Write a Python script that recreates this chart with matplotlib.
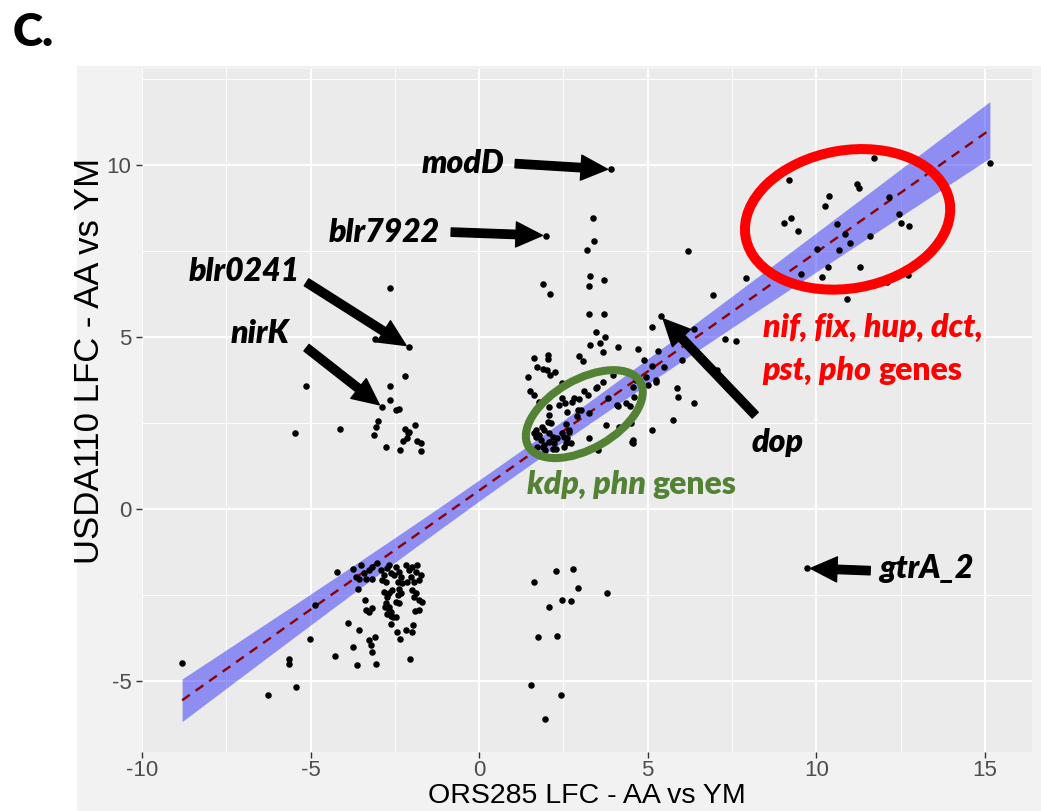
import matplotlib
matplotlib.use("Agg")
import matplotlib.pyplot as plt
import numpy as np
from matplotlib.patches import Ellipse, Rectangle
from matplotlib.transforms import ScaledTranslation

plt.rcParams["axes.unicode_minus"] = False

# ---- data ----
# lower-left block (down in both strains)
ll_x = [-8.81, -6.25, -5.43, -5.63, -5.63, -5.01, -4.86, -4.27, -4.22, -3.89, -3.73, -3.61,
        -3.56, -3.59, -3.39, -3.36, -3.26, -3.18, -3.28, -3.22, -3.19, -3.09, -3.07, -2.78,
        -2.72, -2.67, -2.61, -2.55, -2.47, -2.62, -2.43, -2.34, -2.16, -2.05, -1.98, -1.96,
        -1.90, -1.77, -1.68,
        -3.73, -3.51, -3.66, -3.56, -3.41, -3.26, -3.17, -3.02, -3.36, -3.17, -2.92, -2.82,
        -2.72, -2.67, -2.62, -2.87, -2.77, -2.47, -2.37, -2.32, -2.42, -2.28, -2.52, -2.18,
        -2.08, -2.03, -2.13, -1.98, -1.88, -1.83, -1.78, -1.73, -1.93,
        -2.82, -2.67, -2.72, -2.57, -2.37, -2.42, -2.32, -2.47, -2.37, -2.77, -2.67, -2.62,
        -1.98, -1.88, -1.93, -1.78]
ll_y = [-4.46, -5.40, -5.16, -4.35, -4.49, -3.78, -2.78, -4.26, -1.82, -3.30, -4.00, -4.53,
        -3.51, -2.33, -2.65, -2.92, -3.00, -2.87, -3.81, -3.94, -4.14, -3.73, -4.49, -2.84,
        -3.05, -2.94, -3.11, -3.13, -3.15, -3.35, -3.57, -3.78, -3.51, -4.36, -3.57, -3.38,
        -2.97, -2.92, -2.70,
        -1.75, -1.63, -1.97, -2.04, -1.87, -1.77, -1.68, -1.58, -2.02, -2.02, -1.77, -1.92,
        -1.72, -1.63, -1.87, -2.06, -2.11, -1.68, -1.82, -1.97, -2.11, -2.16, -1.92, -1.63,
        -1.77, -1.97, -2.11, -1.68, -1.82, -1.63, -2.06, -1.92, -2.11,
        -2.40, -2.45, -2.55, -2.35, -2.31, -2.50, -2.43, -2.69, -2.74, -2.74, -2.84, -2.98,
        -2.35, -2.45, -2.55, -2.65]

# upper-left block
ul_x = [-2.63, -3.09, -2.21, -5.15, -2.63, -2.65, -2.47, -2.37, -3.00, -3.06, -3.12, -5.45,
        -4.13, -2.76, -2.34, -2.20, -2.08, -2.10, -1.90, -2.26, -2.13, -1.83, -1.73, -1.71]
ul_y = [6.43, 4.93, 3.88, 3.58, 3.58, 3.17, 2.88, 2.90, 2.56, 2.39, 2.15, 2.20,
        2.32, 1.79, 1.72, 2.32, 2.25, 2.20, 2.45, 1.99, 2.07, 1.99, 1.91, 1.69]

# centre block (kdp, phn region and above)
mid_x = [3.38, 3.40, 3.21, 6.19, 1.90, 2.11, 3.29, 3.27, 3.71, 3.27, 3.71, 5.13, 3.48, 3.74,
         3.60, 3.29, 3.68, 4.12, 4.70, 2.97, 3.09, 1.62, 2.03, 2.03, 1.73, 1.88, 2.00, 2.26,
         2.09, 1.45, 4.90, 5.31, 5.47, 5.13, 6.01, 1.50, 1.64, 3.96, 3.68, 3.50, 3.46, 3.11,
         3.24, 2.45, 2.80, 2.75, 2.55, 2.47, 2.37, 2.62, 2.92, 3.02, 3.26, 2.97, 2.08, 2.06,
         2.03, 2.13, 1.86, 1.68, 1.93, 1.78, 2.08, 2.18, 1.68, 1.83, 1.73, 1.88, 1.96, 2.18,
         2.28, 2.23, 2.52, 2.62, 2.67, 2.57, 2.52, 2.72, 3.26, 3.54, 3.76, 4.10, 4.35, 4.55,
         4.65, 4.95, 5.24, 5.14, 4.55, 4.55, 4.15, 3.83, 4.12, 4.47, 4.58, 5.01, 5.25, 5.86,
         5.89, 5.75, 6.38, 1.78, 2.57, 2.67, 2.47, 2.89, 4.50, 4.53, 1.63, 2.32, 2.08, 1.93,
         7.93, 6.95, 6.38, 7.29, 7.62, 7.07]
mid_y = [8.45, 7.78, 7.54, 7.49, 6.54, 6.24, 6.78, 6.48, 6.65, 5.66, 5.68, 5.30, 5.16, 5.01,
         4.84, 4.77, 4.57, 4.71, 4.65, 4.44, 4.30, 4.38, 4.48, 4.36, 4.14, 4.08, 4.05, 3.98,
         3.90, 3.85, 4.33, 4.60, 4.13, 4.17, 4.33, 3.42, 3.31, 3.90, 3.70, 3.56, 3.52, 3.44,
         3.33, 3.67, 3.24, 3.12, 3.07, 3.22, 3.02, 2.83, 2.88, 2.88, 2.80, 3.19, 2.97, 2.73,
         2.54, 2.49, 2.39, 2.30, 2.30, 2.15, 2.20, 2.10, 2.10, 2.01, 1.81, 1.81, 1.73, 1.76,
         1.76, 1.91, 2.10, 2.06, 2.25, 1.91, 1.81, 1.91, 2.07, 1.72, 2.44, 3.02, 3.07, 3.56,
         3.75, 3.85, 3.75, 2.30, 2.01, 1.93, 2.38, 3.22, 3.00, 3.00, 3.25, 3.62, 3.68, 3.52,
         3.25, 2.58, 3.09, 3.12, 2.46, 2.30, 2.20, 2.70, 2.51, 1.96, 2.20, 2.06, 1.96, 1.86,
         6.71, 6.22, 5.22, 4.93, 4.88, 4.04]

# upper-right block (nif, fix, hup, dct, pst, pho)
ur_x = [11.72, 15.15, 9.19, 11.20, 11.26, 10.38, 12.16, 10.26, 9.24, 9.05, 9.47, 10.62,
        12.46, 12.51, 12.76, 10.84, 11.01, 11.58, 10.01, 10.67, 10.35, 11.30, 9.55, 10.16,
        12.71, 12.11, 10.90]
ur_y = [10.20, 10.05, 9.56, 9.45, 9.34, 9.10, 9.07, 8.80, 8.45, 8.31, 8.08, 8.28,
        8.58, 8.32, 8.24, 7.99, 7.72, 7.95, 7.56, 7.54, 7.05, 7.05, 6.83, 6.74,
        6.81, 6.61, 6.10]

# lower-centre block
lc_x = [2.28, 2.78, 1.64, 2.92, 3.80, 2.47, 2.74, 2.06, 1.75, 2.30, 1.55, 2.44, 1.95]
lc_y = [-1.81, -1.73, -2.13, -2.28, -2.43, -2.65, -2.67, -2.86, -3.73, -3.70, -5.10, -5.39, -6.10]

# labelled genes
gene_names = ["modD", "blr7922", "blr0241", "nirK", "dop", "gtrA_2"]
gene_x = [3.91, 1.98, -2.08, -2.88, 5.39, 9.73]
gene_y = [9.87, 7.95, 4.70, 2.97, 5.60, -1.72]

# linear fit
fit_slope = 0.692
fit_intercept = 0.54
band_se0 = 0.30
band_se_slope = 0.0545
band_x0 = 1.15

all_x = np.array(ll_x + ul_x + mid_x + ur_x + lc_x + gene_x)
all_y = np.array(ll_y + ul_y + mid_y + ur_y + lc_y + gene_y)

# ---- figure ----
W, H = 1041, 811
fig = plt.figure(figsize=(W / 100, H / 100), dpi=100)
fig.patch.set_facecolor("white")
bg = Rectangle((77 / W, 0), 1 - 77 / W, (H - 66) / H, transform=fig.transFigure,
               facecolor="#F2F2F2", edgecolor="none", zorder=-5)
fig.add_artist(bg)

ax = fig.add_axes([142 / W, 1 - 752 / H, 890 / W, 683 / H])
ax.set_facecolor("#EBEBEB")
for s in ax.spines.values():
    s.set_visible(False)
ax.set_xlim(-10, 16.4)
ax.set_ylim(-7.06, 12.79)
ax.set_xticks([-10, -5, 0, 5, 10, 15])
ax.set_xticks([-7.5, -2.5, 2.5, 7.5, 12.5], minor=True)
ax.set_yticks([-5, 0, 5, 10])
ax.set_yticks([-2.5, 2.5, 7.5, 12.5], minor=True)
ax.grid(which="major", color="white", lw=1.4)
ax.grid(which="minor", color="white", lw=0.7)
ax.set_axisbelow(True)
ax.tick_params(which="major", length=4, width=1, color="#333333",
               labelcolor="#4D4D4D", labelsize=16)
ax.tick_params(axis="x", which="major", pad=2)
ax.tick_params(which="minor", length=0)
for lab in ax.get_xticklabels() + ax.get_yticklabels():
    lab.set_family("Liberation Sans")

# confidence band and fit line
xs = np.linspace(all_x.min(), all_x.max(), 200)
fit = fit_intercept + fit_slope * xs
half = np.sqrt(band_se0 ** 2 + (band_se_slope * (xs - band_x0)) ** 2)
ax.fill_between(xs, fit - half, fit + half, color="blue", alpha=0.4, lw=0, zorder=2)
ax.plot(xs, fit, color="#8B0000", lw=1.7, ls=(0, (4, 3)), zorder=3)

ax.scatter(all_x, all_y, s=22, color="black", lw=0, zorder=4)

# ellipses (centre in data units, size in inches)
def ring(cx, cy, w, h, ang, col, lw):
    tr = fig.dpi_scale_trans + ScaledTranslation(cx, cy, ax.transData)
    e = Ellipse((0, 0), w, h, angle=ang, transform=tr, fill=False,
                edgecolor=col, lw=lw, zorder=5)
    ax.add_patch(e)

ring(10.93, 8.42, 2.07, 1.38, 10, "#FF0000", 7.2)
ring(3.12, 2.76, 1.29, 0.69, 30, "#548235", 5.8)

# arrows and gene labels
tails = [(1.07, 10.04), (-0.83, 8.05), (-5.12, 6.59), (-5.12, 4.69), (8.19, 2.73), (11.60, -1.79)]
label_pos = [(-1.72, 9.77), (-4.45, 7.76), (-8.61, 6.63), (-7.36, 4.83), (8.07, 1.66), (11.87, -2.0)]
lab_font = dict(family="Lato", weight="heavy", style="italic", size=23)
for name, gx, gy, t, lp in zip(gene_names, gene_x, gene_y, tails, label_pos):
    ax.annotate("", xy=(gx, gy), xytext=t,
                arrowprops=dict(arrowstyle="simple,head_length=0.95,head_width=0.9,tail_width=0.3",
                                mutation_scale=20, color="black", shrinkA=0, shrinkB=2.5),
                zorder=6)
    ax.text(lp[0], lp[1], name, ha="left", va="baseline", color="black", zorder=6, **lab_font)

# group labels
red = "#FF0000"
ax.text(8.41, 5.0, "nif, fix, hup, dct,", ha="left", va="baseline", color=red, **lab_font)
t2 = ax.text(8.41, 3.75, "pst, pho ", ha="left", va="baseline", color=red, **lab_font)
ax.annotate("genes", xy=(1, 0), xycoords=t2, ha="left", va="bottom", color=red,
            family="Lato", weight="heavy", size=23)
green = "#548235"
t3 = ax.text(1.42, 0.44, "kdp, phn ", ha="left", va="baseline", color=green, **lab_font)
ax.annotate("genes", xy=(1, 0), xycoords=t3, ha="left", va="bottom", color=green,
            family="Lato", weight="heavy", size=23)

# axis titles
ax.set_xlabel("ORS285 LFC - AA vs YM", family="Liberation Sans", size=20.5, color="black")
ax.xaxis.set_label_coords(0.5, -0.046)
ax.set_ylabel("USDA110 LFC - AA vs YM", family="Liberation Sans", size=25, color="black")
ax.yaxis.set_label_coords(-0.040, 0.572)

fig.text(13 / W, 1 - 46 / H, "C.", family="Lato", weight="heavy", size=33, ha="left",
         va="baseline")

fig.savefig("out.png", dpi=100)
